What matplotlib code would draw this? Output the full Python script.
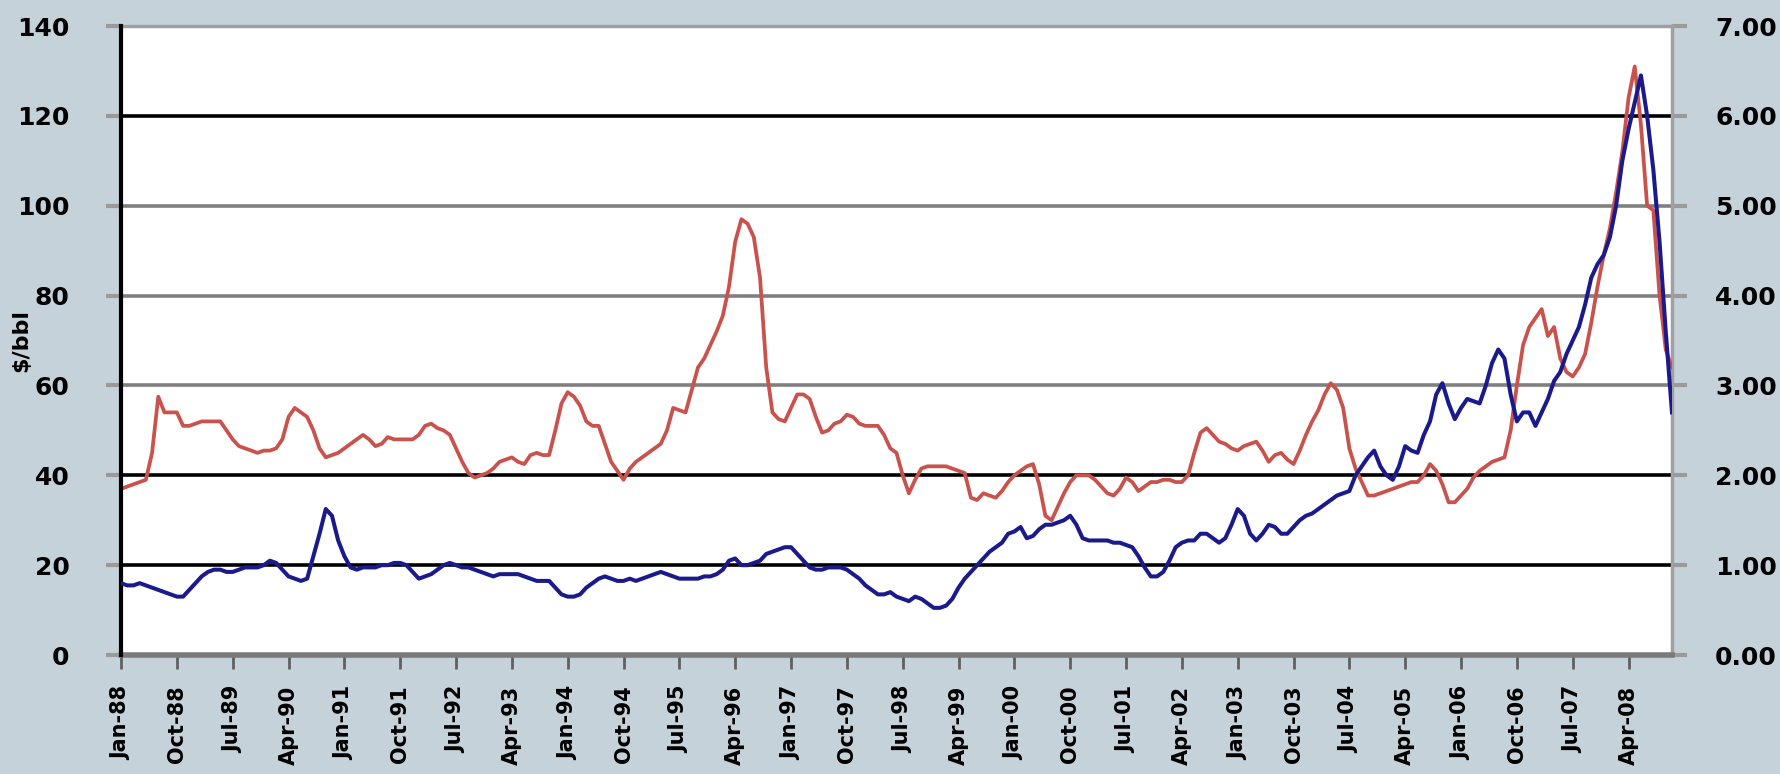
import matplotlib
matplotlib.use("Agg")
import matplotlib.pyplot as plt
import numpy as np

# ---------------- data (monthly, Jan-88 .. Nov-08) ----------------
blue_usd_bbl = [
    # 1988
    16, 15.5, 15.5, 16, 15.5, 15, 14.5, 14, 13.5, 13, 13, 14.5,
    # 1989
    16, 17.5, 18.5, 19, 19, 18.5, 18.5, 19, 19.5, 19.5, 19.5, 20,
    # 1990
    21, 20.5, 19, 17.5, 17, 16.5, 17, 22, 27, 32.5, 31, 25.5,
    # 1991
    22, 19.5, 19, 19.5, 19.5, 19.5, 20, 20, 20.5, 20.5, 20, 18.5,
    # 1992
    17, 17.5, 18, 19, 20, 20.5, 20, 19.5, 19.5, 19, 18.5, 18,
    # 1993
    17.5, 18, 18, 18, 18, 17.5, 17, 16.5, 16.5, 16.5, 15, 13.5,
    # 1994
    13, 13, 13.5, 15, 16, 17, 17.5, 17, 16.5, 16.5, 17, 16.5,
    # 1995
    17, 17.5, 18, 18.5, 18, 17.5, 17, 17, 17, 17, 17.5, 17.5,
    # 1996
    18, 19, 21, 21.5, 20, 20, 20.5, 21, 22.5, 23, 23.5, 24,
    # 1997
    24, 22.5, 21, 19.5, 19, 19, 19.5, 19.5, 19.5, 19, 18, 17,
    # 1998
    15.5, 14.5, 13.5, 13.5, 14, 13, 12.5, 12, 13, 12.5, 11.5, 10.5,
    # 1999
    10.5, 11, 12.5, 15, 17, 18.5, 20, 21.5, 23, 24, 25, 27,
    # 2000
    27.5, 28.5, 26, 26.5, 28, 29, 29, 29.5, 30, 31, 29, 26,
    # 2001
    25.5, 25.5, 25.5, 25.5, 25, 25, 24.5, 24, 22, 19.5, 17.5, 17.5,
    # 2002
    18.5, 21, 24, 25, 25.5, 25.5, 27, 27, 26, 25, 26, 29,
    # 2003
    32.5, 31, 27, 25.5, 27, 29, 28.5, 27, 27, 28.5, 30, 31,
    # 2004
    31.5, 32.5, 33.5, 34.5, 35.5, 36, 36.5, 40, 42, 44, 45.5, 42,
    # 2005
    40, 39, 42, 46.5, 45.5, 45, 49, 52, 58, 60.5, 56, 52.5,
    # 2006
    55, 57, 56.5, 56, 60, 65, 68, 66, 58, 52, 54, 54,
    # 2007
    51, 54, 57, 61, 63, 67, 70, 73, 78, 84, 87, 89,
    # 2008 (Jan-Nov)
    93, 100, 110, 117, 123, 129, 120, 108, 92, 72, 54,
]

red_right_axis = [v / 20 for v in [
    # 1988
    37, 37.5, 38, 38.5, 39, 45, 57.5, 54, 54, 54, 51, 51,
    # 1989
    51.5, 52, 52, 52, 52, 50, 48, 46.5, 46, 45.5, 45, 45.5,
    # 1990
    45.5, 46, 48, 53, 55, 54, 53, 50, 46, 44, 44.5, 45,
    # 1991
    46, 47, 48, 49, 48, 46.5, 47, 48.5, 48, 48, 48, 48,
    # 1992
    49, 51, 51.5, 50.5, 50, 49, 46, 43, 40.5, 39.5, 40, 40.5,
    # 1993
    41.5, 43, 43.5, 44, 43, 42.5, 44.5, 45, 44.5, 44.5, 50, 56,
    # 1994
    58.5, 57.5, 55.5, 52, 51, 51, 47, 43, 41, 39, 41.5, 43,
    # 1995
    44, 45, 46, 47, 50, 55, 54.5, 54, 59, 64, 66, 69,
    # 1996
    72, 75.5, 82, 92, 97, 96, 93, 84, 64, 54, 52.5, 52,
    # 1997
    55, 58, 58, 57, 53, 49.5, 50, 51.5, 52, 53.5, 53, 51.5,
    # 1998
    51, 51, 51, 49, 46, 45, 40, 36, 39, 41.5, 42, 42,
    # 1999
    42, 42, 41.5, 41, 40.5, 35, 34.5, 36, 35.5, 35, 36.5, 38.5,
    # 2000
    40, 41, 42, 42.5, 38, 31, 30, 33, 36, 38.5, 40, 40,
    # 2001
    40, 39, 37.5, 36, 35.5, 37, 39.5, 38.5, 36.5, 37.5, 38.5, 38.5,
    # 2002
    39, 39, 38.5, 38.5, 40, 45, 49.5, 50.5, 49, 47.5, 47, 46,
    # 2003
    45.5, 46.5, 47, 47.5, 45.5, 43, 44.5, 45, 43.5, 42.5, 45.5, 49,
    # 2004
    52, 54.5, 58, 60.5, 59, 55, 46, 41.5, 38.5, 35.5, 35.5, 36,
    # 2005
    36.5, 37, 37.5, 38, 38.5, 38.5, 40, 42.5, 41, 38, 34, 34,
    # 2006
    35.5, 37, 39.5, 41, 42, 43, 43.5, 44, 50, 60, 69, 73,
    # 2007
    75, 77, 71, 73, 66, 63, 62, 64, 67, 74, 82, 89,
    # 2008 (Jan-Nov)
    95, 103, 112, 124, 131, 118, 100, 99, 80, 68, 64,
]]

x_tick_labels = ["Jan-88", "Oct-88", "Jul-89", "Apr-90", "Jan-91", "Oct-91", "Jul-92",
                 "Apr-93", "Jan-94", "Oct-94", "Jul-95", "Apr-96", "Jan-97", "Oct-97",
                 "Jul-98", "Apr-99", "Jan-00", "Oct-00", "Jul-01", "Apr-02", "Jan-03",
                 "Oct-03", "Jul-04", "Apr-05", "Jan-06", "Oct-06", "Jul-07", "Apr-08"]
left_ticks = [0, 20, 40, 60, 80, 100, 120, 140]
right_ticks = [0, 1, 2, 3, 4, 5, 6, 7]
y_label = "$/bbl"

# ---------------- styling ----------------
BG = "#c6d2da"
BLUE = "#1a1a8c"
RED = "#c9524c"
GRAY = "#808080"
FS = 18

fig = plt.figure(figsize=(17.8, 7.74), dpi=100, facecolor=BG)
pos = [0.068, 0.1537, 0.8713, 0.8127]
ax2 = fig.add_axes(pos)                 # bottom layer: white, grid, red (right axis)
ax = fig.add_axes(pos, sharex=ax2)      # top layer: blue (left axis)
ax.set_zorder(ax2.get_zorder() + 1)
ax.patch.set_visible(False)

n = len(blue_usd_bbl)
x = np.arange(n)

# secondary (right) axis: white background, gridlines, red series
ax2.set_facecolor("white")
ax2.set_ylim(0, 7)
for v in right_ticks[1:-1]:
    col = "black" if v in (1, 2, 6) else GRAY
    ax2.axhline(v, color=col, lw=2.6, zorder=1)
ax2.plot(x, red_right_axis, color=RED, lw=2.7, zorder=3, solid_joinstyle="round")
ax2.yaxis.tick_right()
ax2.set_yticks(right_ticks)
ax2.set_yticklabels([f"{v:.2f}" for v in right_ticks], fontsize=FS, fontweight="bold")
ax2.tick_params(axis="y", direction="out", length=11, width=3, color="#9a9a9a", pad=20)
ax2.set_xlim(0, n - 1)
ax2.set_xticks(range(0, n, 9)[:len(x_tick_labels)])
ax2.set_xticklabels(x_tick_labels, rotation=90, fontsize=15, fontweight="bold",
                    va="top", ha="center")
ax2.tick_params(axis="x", direction="out", length=10, width=2, color="#606060", pad=12)
for s in ["top", "right"]:
    ax2.spines[s].set_color("#a0a0a0")
    ax2.spines[s].set_linewidth(2.5)
ax2.spines["left"].set_visible(False)
ax2.spines["bottom"].set_color("#7a7a7a")
ax2.spines["bottom"].set_linewidth(4)

# primary (left) axis: blue series
ax.plot(x, blue_usd_bbl, color=BLUE, lw=2.9, zorder=4, solid_joinstyle="round")
ax.set_ylim(0, 140)
ax.set_xlim(0, n - 1)
ax.set_yticks(left_ticks)
ax.set_yticklabels([str(v) for v in left_ticks], fontsize=FS, fontweight="bold")
ax.tick_params(axis="y", direction="out", length=11, width=3, color="#9a9a9a", pad=26)
ax.tick_params(axis="x", bottom=False, labelbottom=False)
for s in ["top", "right", "bottom"]:
    ax.spines[s].set_visible(False)
ax.spines["left"].set_color("black")
ax.spines["left"].set_linewidth(3)
ax.set_ylabel(y_label, fontsize=16, fontweight="bold")
ax.yaxis.set_label_coords(-0.058, 0.5)

fig.savefig("out.png", dpi=100, facecolor=BG)
